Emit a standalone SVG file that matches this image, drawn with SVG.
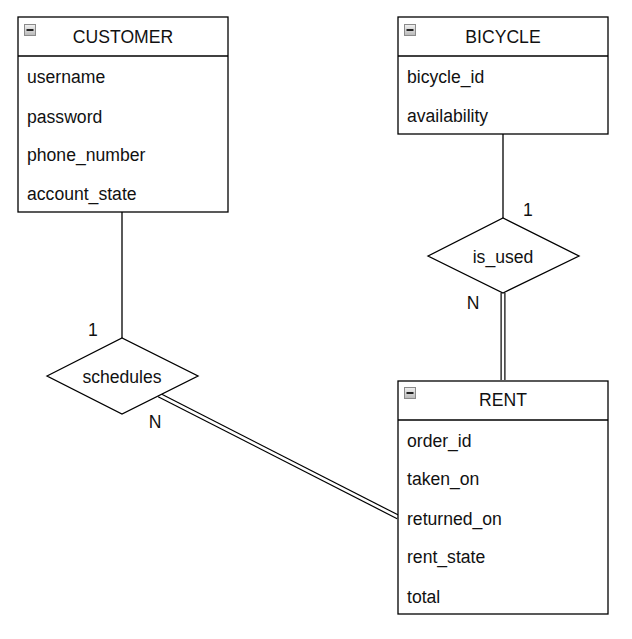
<svg xmlns="http://www.w3.org/2000/svg" width="632" height="639" viewBox="0 0 632 639">
<defs>
<linearGradient id="ig" x1="0" y1="0" x2="0" y2="1"><stop offset="0" stop-color="#f2f2f2"/><stop offset="1" stop-color="#b8b8b8"/></linearGradient>
<g id="icon"><rect x="0.5" y="0.5" width="11" height="11" fill="url(#ig)" stroke="#8a8a8a" stroke-width="1"/><rect x="2.5" y="5" width="7" height="2" fill="#222"/></g>
</defs>
<style>
.box{fill:#fff;stroke:#000;stroke-width:1.3}
.ln{stroke:#000;stroke-width:1.3;fill:none}
.dbo{stroke:#000;stroke-width:5;fill:none}
.dbi{stroke:#fff;stroke-width:2.6;fill:none}
text{font-family:"Liberation Sans",Arial,sans-serif;font-size:17.6px;fill:#111}
.c{text-anchor:middle}
</style>
<rect width="632" height="639" fill="#fff"/>
<g id="connectors">
<path class="ln" d="M122,212 V338"/>
<path class="ln" d="M503,134 V218"/>
<path class="dbo" d="M159,395 L398,517"/>
<path class="dbi" d="M159,395 L398,517"/>
<path class="dbo" d="M503,293 V380"/>
<path class="dbi" d="M503,293 V380"/>
<text class="c" x="93" y="336">1</text>
<text class="c" x="155" y="428">N</text>
<text class="c" x="528" y="216">1</text>
<text class="c" x="473" y="309">N</text>
</g>
<g id="customer">
<rect class="box" x="18" y="17" width="210" height="195"/>
<path class="ln" d="M18,56 H228"/>
<use href="#icon" x="24" y="24"/>
<text class="c" x="123" y="43">CUSTOMER</text>
<text x="27" y="83">username</text>
<text x="27" y="123">password</text>
<text x="27" y="161">phone_number</text>
<text x="27" y="200">account_state</text>
</g>
<g id="bicycle">
<rect class="box" x="398" y="17" width="210" height="117"/>
<path class="ln" d="M398,56 H608"/>
<use href="#icon" x="404" y="24"/>
<text class="c" x="503" y="43">BICYCLE</text>
<text x="407" y="83">bicycle_id</text>
<text x="407" y="122">availability</text>
</g>
<g id="rent">
<rect class="box" x="398" y="381" width="210" height="233"/>
<path class="ln" d="M398,420 H608"/>
<use href="#icon" x="404" y="387"/>
<text class="c" x="503" y="406">RENT</text>
<text x="407" y="447">order_id</text>
<text x="407" y="485">taken_on</text>
<text x="407" y="525">returned_on</text>
<text x="407" y="563">rent_state</text>
<text x="407" y="603">total</text>
</g>
<g id="schedules">
<polygon class="box" points="47,376 122,338 198,376 122,414"/>
<text class="c" x="122" y="383">schedules</text>
</g>
<g id="is_used">
<polygon class="box" points="428,256 503,218 579,256 503,293"/>
<text class="c" x="503" y="263">is_used</text>
</g>
</svg>
